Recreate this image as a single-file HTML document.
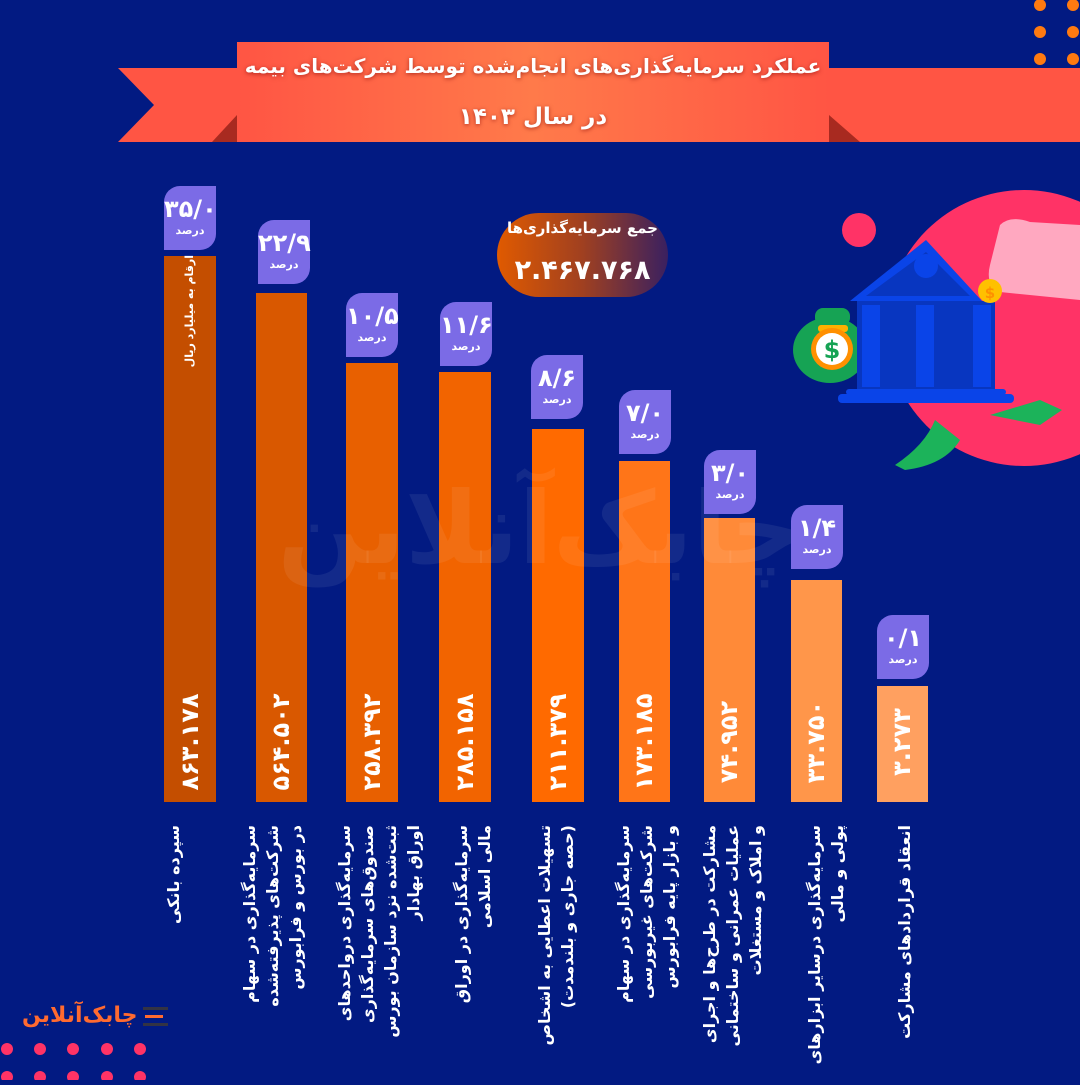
<!DOCTYPE html>
<html><head><meta charset="utf-8"><style>
*{margin:0;padding:0;box-sizing:border-box}
body{width:1080px;height:1080px;background:#021a82;position:relative;overflow:hidden;font-family:"DejaVu Sans","Liberation Sans",sans-serif;color:#fff}
.a{position:absolute}
.pb{position:absolute;width:52px;height:64px;background:#7b6be6;border-radius:16px 0 16px 0;text-align:center;direction:rtl}
.pb b{display:block;font-size:24px;line-height:30px;margin-top:8px;font-weight:bold;direction:ltr}
.pb i{display:block;font-style:normal;font-size:11px;font-weight:bold;line-height:14px}
.v{position:absolute;width:110px;left:-29px;top:-15px;height:30px;line-height:30px;text-align:center;font-size:24px;font-weight:bold;transform:rotate(-90deg);direction:ltr;white-space:nowrap}
.lab{position:absolute;top:825px;width:260px;direction:rtl;text-align:right;font-size:16px;line-height:23px;font-weight:bold;transform-origin:100% 0;transform:rotate(-90deg);white-space:nowrap}
</style></head><body>
<svg class="a" style="left:0;top:0" width="1080" height="1080">
<defs>
<linearGradient id="rib" x1="0" x2="1"><stop offset="0" stop-color="#ff5544"/><stop offset=".5" stop-color="#ff7a4a"/><stop offset="1" stop-color="#ff5544"/></linearGradient>
<linearGradient id="pill" x1="0" x2="1"><stop offset="0" stop-color="#e05a00"/><stop offset=".5" stop-color="#a04020"/><stop offset="1" stop-color="#3a2060"/></linearGradient>
</defs>
<g fill="#ff7a10">
<circle cx="1040" cy="5" r="6"/><circle cx="1073" cy="5" r="6"/>
<circle cx="1040" cy="32" r="6"/><circle cx="1073" cy="32" r="6"/>
<circle cx="1040" cy="59" r="6"/><circle cx="1073" cy="59" r="6"/>
<circle cx="1040" cy="86" r="6"/><circle cx="1073" cy="86" r="6"/>
<circle cx="1040" cy="113" r="6"/><circle cx="1073" cy="113" r="6"/>
</g>
<g fill="#ff3366">
<circle cx="7" cy="1049" r="6"/><circle cx="40" cy="1049" r="6"/><circle cx="73" cy="1049" r="6"/><circle cx="107" cy="1049" r="6"/><circle cx="140" cy="1049" r="6"/>
<circle cx="7" cy="1077" r="6"/><circle cx="40" cy="1077" r="6"/><circle cx="73" cy="1077" r="6"/><circle cx="107" cy="1077" r="6"/><circle cx="140" cy="1077" r="6"/>
</g>
<polygon points="118,68 237,68 237,142 118,142 154,105" fill="#ff5544"/>
<polygon points="829,68 1080,68 1080,142 829,142" fill="#ff5544"/>
<polygon points="212,142 237,142 237,115" fill="#a82a20"/>
<polygon points="829,142 860,142 829,115" fill="#a82a20"/>
<rect x="237" y="42" width="592" height="100" fill="url(#rib)"/>
<rect x="497" y="213" width="171" height="84" rx="42" fill="url(#pill)"/>
<circle cx="1024" cy="328" r="138" fill="#ff3366"/>
<circle cx="859" cy="230" r="17" fill="#ff3366"/>
<path d="M1000 225 Q1010 215 1030 222 L1080 225 L1080 300 L1000 292 Q985 285 990 265 Z" fill="#ffa8c0"/>
<path d="M895 465 Q925 445 935 420 L960 440 Q945 465 905 470 Z" fill="#1cb35a"/>
<path d="M990 415 L1040 400 L1062 410 L1040 425 Z" fill="#1cb35a"/>
<ellipse cx="830" cy="350" rx="37" ry="33" fill="#16a354"/>
<rect x="815" y="308" width="35" height="18" rx="8" fill="#16a354"/>
<rect x="818" y="325" width="30" height="7" rx="3" fill="#ffb000"/>
<circle cx="832" cy="349" r="21" fill="#ff9000"/>
<circle cx="832" cy="349" r="16" fill="#fff"/>
<text x="832" y="358" text-anchor="middle" font-size="24" font-weight="bold" fill="#16a354" font-family="DejaVu Sans">$</text>
<polygon points="850,301 926,240 982,301" fill="#0a44e8"/>
<polygon points="866,296 926,252 970,296" fill="#0836c0"/>
<circle cx="926" cy="266" r="12" fill="#0a44e8"/>
<rect x="857" y="301" width="138" height="88" fill="#0836c0"/>
<rect x="862" y="305" width="18" height="82" fill="#0a44e8"/>
<rect x="916" y="305" width="18" height="82" fill="#0a44e8"/>
<rect x="973" y="305" width="18" height="82" fill="#0a44e8"/>
<rect x="846" y="389" width="160" height="6" rx="3" fill="#0a44e8"/>
<rect x="838" y="394" width="176" height="9" rx="4" fill="#0a44e8"/>
<circle cx="990" cy="291" r="12" fill="#ffc000"/>
<text x="990" y="298" text-anchor="middle" font-size="15" font-weight="bold" fill="#ff9000" font-family="DejaVu Sans">$</text>
<rect x="164" y="256" width="52" height="546" fill="#c44e00"/>
<rect x="256" y="293" width="51" height="509" fill="#d95800"/>
<rect x="346" y="363" width="52" height="439" fill="#e86000"/>
<rect x="439" y="372" width="52" height="430" fill="#f26400"/>
<rect x="532" y="429" width="52" height="373" fill="#ff6a00"/>
<rect x="619" y="461" width="51" height="341" fill="#ff7518"/>
<rect x="704" y="518" width="51" height="284" fill="#ff8a38"/>
<rect x="791" y="580" width="51" height="222" fill="#ff964a"/>
<rect x="877" y="686" width="51" height="116" fill="#ffa060"/>
<rect x="143" y="1007" width="25" height="3" fill="#334"/>
<rect x="143" y="1023" width="25" height="3" fill="#334"/>
<rect x="145" y="1015" width="18" height="3" fill="#ff6a30"/>
</svg>
<div class="a" style="left:220px;top:470px;width:640px;text-align:center;font-size:100px;font-weight:bold;color:rgba(255,255,255,0.07);direction:rtl">چابک‌آنلاین</div>
<div class="a" style="left:227px;top:54px;width:612px;text-align:center;font-size:20px;font-weight:bold;direction:rtl;white-space:nowrap;text-shadow:0 1px 4px rgba(120,0,0,.6)">عملکرد سرمایه‌گذاری‌های انجام‌شده توسط شرکت‌های بیمه</div>
<div class="a" style="left:237px;top:104px;width:592px;text-align:center;font-size:23px;font-weight:bold;direction:rtl;text-shadow:0 1px 4px rgba(120,0,0,.6)">در سال ۱۴۰۳</div>
<div class="a" style="left:497px;top:219px;width:171px;text-align:center;font-size:15px;font-weight:bold;direction:rtl">جمع سرمایه‌گذاری‌ها</div>
<div class="a" style="left:497px;top:255px;width:171px;text-align:center;font-size:27px;font-weight:bold">۲.۴۶۷.۷۶۸</div>
<div class="a" style="left:22px;top:1003px;font-size:22px;font-weight:bold;color:#ff6a30;direction:rtl">چابک‌آنلاین</div>

<div class="pb" style="left:164px;top:186px"><b>۳۵/۰</b><i>درصد</i></div>
<div class="pb" style="left:258px;top:220px"><b>۲۲/۹</b><i>درصد</i></div>
<div class="pb" style="left:346px;top:293px"><b>۱۰/۵</b><i>درصد</i></div>
<div class="pb" style="left:440px;top:302px"><b>۱۱/۶</b><i>درصد</i></div>
<div class="pb" style="left:531px;top:355px"><b>۸/۶</b><i>درصد</i></div>
<div class="pb" style="left:619px;top:390px"><b>۷/۰</b><i>درصد</i></div>
<div class="pb" style="left:704px;top:450px"><b>۳/۰</b><i>درصد</i></div>
<div class="pb" style="left:791px;top:505px"><b>۱/۴</b><i>درصد</i></div>
<div class="pb" style="left:877px;top:615px"><b>۰/۱</b><i>درصد</i></div>

<div class="a" style="left:190px;top:310px"><div class="v" style="font-size:11px;width:110px;left:-55px;top:-15px;direction:rtl">ارقام به میلیارد ریال</div></div>
<div class="a" style="left:190px;top:742px"><div class="v" style="left:-55px">۸۶۳.۱۷۸</div></div>
<div class="a" style="left:281px;top:742px"><div class="v" style="left:-55px">۵۶۴.۵۰۲</div></div>
<div class="a" style="left:372px;top:742px"><div class="v" style="left:-55px">۲۵۸.۳۹۲</div></div>
<div class="a" style="left:465px;top:742px"><div class="v" style="left:-55px">۲۸۵.۱۵۸</div></div>
<div class="a" style="left:558px;top:742px"><div class="v" style="left:-55px">۲۱۱.۳۷۹</div></div>
<div class="a" style="left:644px;top:742px"><div class="v" style="left:-55px">۱۷۳.۱۸۵</div></div>
<div class="a" style="left:729px;top:742px"><div class="v" style="left:-55px">۷۴.۹۵۲</div></div>
<div class="a" style="left:816px;top:742px"><div class="v" style="left:-55px">۳۳.۷۵۰</div></div>
<div class="a" style="left:902px;top:742px"><div class="v" style="left:-55px">۳.۲۷۳</div></div>

<div class="lab" style="left:-98px">سپرده بانکی</div>
<div class="lab" style="left:-22px">سرمایه‌گذاری در سهام<br>شرکت‌های پذیرفته‌شده<br>در بورس و فرابورس</div>
<div class="lab" style="left:73px">سرمایه‌گذاری درواحدهای<br>صندوق‌های سرمایه‌گذاری<br>ثبت‌شده نزد سازمان بورس<br>اوراق بهادار</div>
<div class="lab" style="left:190px">سرمایه‌گذاری در اوراق<br>مالی اسلامی</div>
<div class="lab" style="left:273px">تسهیلات اعطایی به اشخاص<br>(حصه جاری و بلندمدت)</div>
<div class="lab" style="left:352px">سرمایه‌گذاری در سهام<br>شرکت‌های غیربورسی<br>و بازار پایه فرابورس</div>
<div class="lab" style="left:438px">مشارکت در طرح‌ها و اجرای<br>عملیات عمرانی و ساختمانی<br>و املاک و مستغلات</div>
<div class="lab" style="left:543px">سرمایه‌گذاری درسایر ابزارهای<br>پولی و مالی</div>
<div class="lab" style="left:633px">انعقاد قراردادهای مشارکت</div>
</body></html>
